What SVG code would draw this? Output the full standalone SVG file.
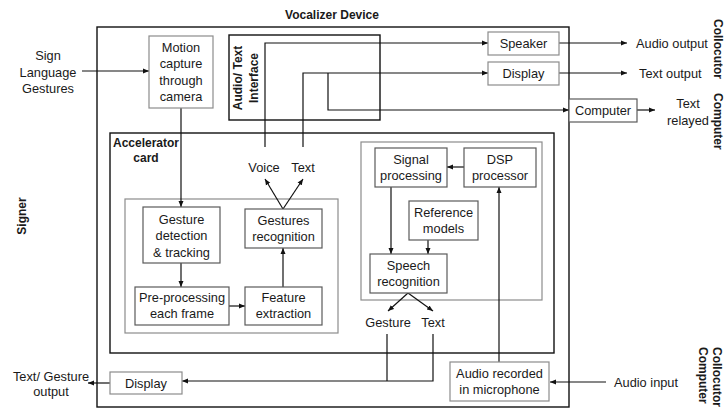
<svg xmlns="http://www.w3.org/2000/svg" width="725" height="409" viewBox="0 0 725 409">
  <style>
    text { font-family: "Liberation Sans", Arial, sans-serif; font-size: 12.8px; fill: #1a1a1a; text-anchor: middle; }
    .b { font-weight: bold; font-size: 12px; }
    .st { text-anchor: start; }
    .frame { fill: none; stroke: #111; stroke-width: 1.4; }
    .group { fill: none; stroke: #8c8c8c; stroke-width: 1.2; }
    .box { fill: #fff; stroke: #5a5a5a; stroke-width: 1.2; }
    .lite { fill: #fff; stroke: #8c8c8c; stroke-width: 1.2; }
    .wire { fill: none; stroke: #111; stroke-width: 1.2; }
    .arr { marker-end: url(#ah); }
  </style>
  <defs>
    <marker id="ah" markerUnits="userSpaceOnUse" markerWidth="7" markerHeight="6" refX="6" refY="3" orient="auto">
      <path d="M0,0.5 L6,3 L0,5.5 Z" fill="#111"/>
    </marker>
  </defs>
  <rect width="725" height="409" fill="#fff"/>

  <!-- containers -->
  <g id="vocalizer">
    <rect class="frame" x="97" y="27" width="472" height="380"/>
    <text class="b" x="332" y="19">Vocalizer Device</text>
  </g>
  <g id="interface">
    <rect class="frame" x="229" y="35" width="151" height="85"/>
    <text class="b" transform="translate(241.5,78) rotate(-90)">Audio/ Text</text>
    <text class="b" transform="translate(257.5,78) rotate(-90)">Interface</text>
  </g>
  <g id="accelerator">
    <rect class="frame" x="110" y="133" width="444" height="220"/>
    <text class="b" x="146" y="147">Accelerator</text>
    <text class="b" x="146" y="162">card</text>
  </g>
  <g id="vision-unit"><rect class="group" x="125" y="199" width="213" height="134"/></g>
  <g id="speech-unit"><rect class="group" x="361" y="142" width="181" height="158"/></g>

  <!-- connectors -->
  <g id="connectors">
    <path class="wire arr" d="M82,71 H149"/>
    <path class="wire arr" d="M181,108 V207"/>
    <path class="wire arr" d="M181,263 V287"/>
    <path class="wire arr" d="M229,306 H245"/>
    <path class="wire arr" d="M283,287 V248"/>
    <path class="wire arr" d="M283,209 L265,179"/>
    <path class="wire arr" d="M283,209 L303,179"/>
    <path class="wire arr" d="M265,147 V43 H488"/>
    <path class="wire arr" d="M303,147 V73 H488"/>
    <path class="wire arr" d="M328,73 V110 H569"/>
    <path class="wire arr" d="M559,43 H627"/>
    <path class="wire arr" d="M559,73 H627"/>
    <path class="wire arr" d="M637,110 H655"/>
    <path class="wire arr" d="M464,167 H447"/>
    <path class="wire arr" d="M391,187 V254"/>
    <path class="wire arr" d="M428,240 V254"/>
    <path class="wire arr" d="M499,362 V187"/>
    <path class="wire arr" d="M408,293 L388,311"/>
    <path class="wire arr" d="M408,293 L433,311"/>
    <path class="wire" d="M387,334 V381"/>
    <path class="wire arr" d="M433,334 V381 H182"/>
    <path class="wire arr" d="M110,383 H88"/>
    <path class="wire arr" d="M606,382 H550"/>
  </g>

  <!-- nodes -->
  <g id="motion-capture">
    <rect class="lite" x="149" y="36" width="64" height="72"/>
    <text x="181" y="51.5">Motion</text>
    <text x="181" y="68">capture</text>
    <text x="181" y="84.5">through</text>
    <text x="181" y="101">camera</text>
  </g>
  <g id="gesture-detection">
    <rect class="box" x="143" y="207" width="77" height="56"/>
    <text x="181.5" y="223.5">Gesture</text>
    <text x="181.5" y="240">detection</text>
    <text x="181.5" y="256.5">&amp; tracking</text>
  </g>
  <g id="gestures-recognition">
    <rect class="box" x="245" y="209" width="77" height="39"/>
    <text x="283.5" y="225">Gestures</text>
    <text x="283.5" y="241">recognition</text>
  </g>
  <g id="pre-processing">
    <rect class="box" x="135" y="287" width="94" height="38"/>
    <text x="182" y="302">Pre-processing</text>
    <text x="182" y="318">each frame</text>
  </g>
  <g id="feature-extraction">
    <rect class="box" x="245" y="287" width="77" height="38"/>
    <text x="283.5" y="302">Feature</text>
    <text x="283.5" y="318">extraction</text>
  </g>
  <g id="signal-processing">
    <rect class="box" x="375" y="148" width="72" height="39"/>
    <text x="411" y="164">Signal</text>
    <text x="411" y="180">processing</text>
  </g>
  <g id="dsp-processor">
    <rect class="box" x="464" y="148" width="72" height="39"/>
    <text x="500" y="164">DSP</text>
    <text x="500" y="180">processor</text>
  </g>
  <g id="reference-models">
    <rect class="box" x="409" y="201" width="69" height="39"/>
    <text x="443.5" y="216.5">Reference</text>
    <text x="443.5" y="232.5">models</text>
  </g>
  <g id="speech-recognition">
    <rect class="box" x="370" y="254" width="77" height="39"/>
    <text x="408.5" y="270">Speech</text>
    <text x="408.5" y="286">recognition</text>
  </g>
  <g id="speaker">
    <rect class="lite" x="488" y="32" width="71" height="23"/>
    <text x="523.5" y="48">Speaker</text>
  </g>
  <g id="display-top">
    <rect class="lite" x="488" y="62" width="71" height="23"/>
    <text x="523.5" y="78">Display</text>
  </g>
  <g id="computer">
    <rect class="box" x="569" y="99" width="68" height="23"/>
    <text x="603" y="115">Computer</text>
  </g>
  <g id="display-bottom">
    <rect class="lite" x="110" y="372" width="72" height="22"/>
    <text x="146" y="387.5">Display</text>
  </g>
  <g id="microphone">
    <rect class="lite" x="450" y="362" width="99" height="39"/>
    <text x="499.5" y="378">Audio recorded</text>
    <text x="499.5" y="394">in microphone</text>
  </g>

  <!-- free labels -->
  <g id="labels">
    <text x="48" y="60">Sign</text>
    <text x="48" y="76.5">Language</text>
    <text x="48" y="93">Gestures</text>
    <text x="264" y="172">Voice</text>
    <text x="303" y="172">Text</text>
    <text x="388" y="327">Gesture</text>
    <text x="433" y="327">Text</text>
    <text class="st" x="636" y="48">Audio output</text>
    <text class="st" x="639" y="78">Text output</text>
    <text x="688" y="108">Text</text>
    <text x="688" y="124.5">relayed</text>
    <text x="51" y="381">Text/ Gesture</text>
    <text x="51" y="396">output</text>
    <text class="st" x="614" y="387">Audio input</text>
    <text class="b" transform="translate(25.5,216) rotate(-90)">Signer</text>
    <text class="b st" transform="translate(713.5,19) rotate(90)">Collocutor</text>
    <text class="b st" transform="translate(713.5,93) rotate(90)">Computer</text>
    <text class="b st" transform="translate(713,347) rotate(90)">Collocutor</text>
    <text class="b st" transform="translate(699,347) rotate(90)">Computer</text>
  </g>
</svg>
